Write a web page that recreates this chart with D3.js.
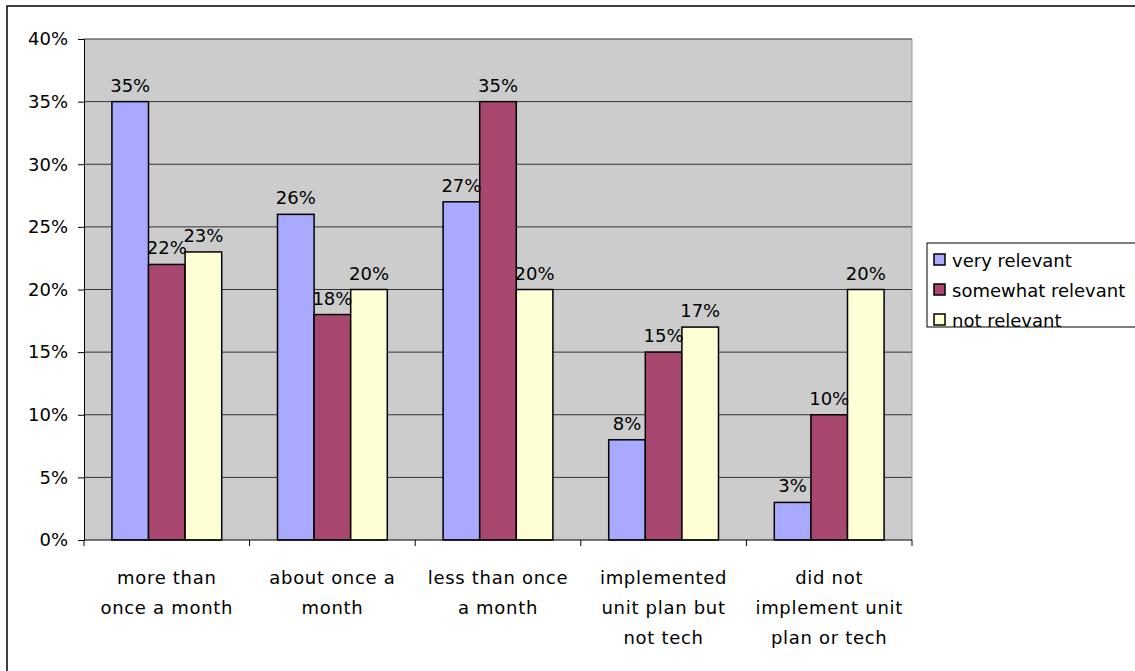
<!DOCTYPE html>
<html><head><meta charset="utf-8">
<script src="https://cdn.jsdelivr.net/npm/d3@7"></script>
<style>body{margin:0;background:#fff;} text{font-family:Verdana,"DejaVu Sans",sans-serif;}</style>
</head><body>
<svg id="c" width="1135" height="671"></svg>
<script>
const categories = [["more than","once a month"],["about once a","month"],["less than once","a month"],["implemented","unit plan but","not tech"],["did not","implement unit","plan or tech"]];
const seriesNames = ["very relevant","somewhat relevant","not relevant"];
const veryRelevant = [35,26,27,8,3];
const somewhatRelevant = [22,18,35,15,10];
const notRelevant = [23,20,20,17,20];
const yTicks = [0,5,10,15,20,25,30,35,40];
const colors = ["#A9A9FF","#A8476F","#FFFFD6"];
const series = [veryRelevant, somewhatRelevant, notRelevant];

const svg = d3.select("#c");
svg.append("rect").attr("x",7).attr("y",6).attr("width",1140).attr("height",680).attr("fill","#fff").attr("stroke","#000").attr("stroke-width",1.5);

const L=84,R=912,T=39,B=540;
const x = d3.scaleBand().domain(d3.range(categories.length)).range([L,R]).paddingInner(0).paddingOuter(0);
const y = d3.scaleLinear().domain([0,40]).range([B,T]);
const bw = x.bandwidth()*0.221;
const off = (x.bandwidth()-3*bw)/2;

svg.append("rect").attr("x",L).attr("y",T).attr("width",R-L).attr("height",B-T).attr("fill","#CCCCCC");
svg.append("g").selectAll("line").data(yTicks.slice(1)).join("line")
  .attr("x1",L).attr("x2",R).attr("y1",d=>y(d)).attr("y2",d=>y(d)).attr("stroke","#333").attr("stroke-width",1);
svg.append("line").attr("x1",R).attr("x2",R).attr("y1",T).attr("y2",B).attr("stroke","#999");

// y axis
const ya = svg.append("g").attr("transform",`translate(${L},0)`).call(d3.axisLeft(y).tickValues(yTicks).tickFormat(d=>d+"%").tickSize(6).tickPadding(10));
ya.select(".domain").attr("stroke","#000");
ya.selectAll("line").attr("stroke","#000");
ya.selectAll("text").attr("font-size",18).attr("fill","#000").style("font-family",'Verdana,"DejaVu Sans",sans-serif');

// bars
series.forEach((s,si)=>{
  svg.append("g").selectAll("rect").data(s).join("rect")
    .attr("x",(d,i)=>x(i)+off+si*bw).attr("y",d=>y(d)).attr("width",bw).attr("height",d=>B-y(d))
    .attr("fill",colors[si]).attr("stroke","#000").attr("stroke-width",1.5);
});
series.forEach((s,si)=>{
  svg.append("g").selectAll("text").data(s).join("text")
    .attr("x",(d,i)=>x(i)+off+si*bw+bw/2).attr("y",d=>y(d)-10)
    .attr("text-anchor","middle").attr("font-size",18).attr("fill","#000").text(d=>d+"%");
});

// x axis
const xa = svg.append("g").attr("transform",`translate(0,${B})`);
xa.append("line").attr("x1",L).attr("x2",R).attr("stroke","#000");
xa.selectAll("line.t").data(d3.range(categories.length+1)).join("line").attr("class","t")
  .attr("x1",i=>L+i*x.bandwidth()).attr("x2",i=>L+i*x.bandwidth()).attr("y1",0).attr("y2",6).attr("stroke","#000");
categories.forEach((lines,i)=>{
  const t = svg.append("text").attr("text-anchor","middle").attr("font-size",18).attr("letter-spacing",0.7).attr("fill","#000");
  lines.forEach((ln,j)=>t.append("tspan").attr("x",x(i)+x.bandwidth()/2).attr("y",584+j*30).text(ln));
});

// legend
const lg = svg.append("g");
lg.append("rect").attr("x",927).attr("y",243).attr("width",220).attr("height",84).attr("fill","#fff").attr("stroke","#000");
seriesNames.forEach((n,i)=>{
  lg.append("rect").attr("x",934).attr("y",254+i*30).attr("width",11).attr("height",11).attr("fill",colors[i]).attr("stroke","#000").attr("stroke-width",1.5);
  lg.append("text").attr("x",952).attr("y",267+i*30).attr("font-size",18).attr("fill","#000").text(n);
});
</script>
</body></html>
